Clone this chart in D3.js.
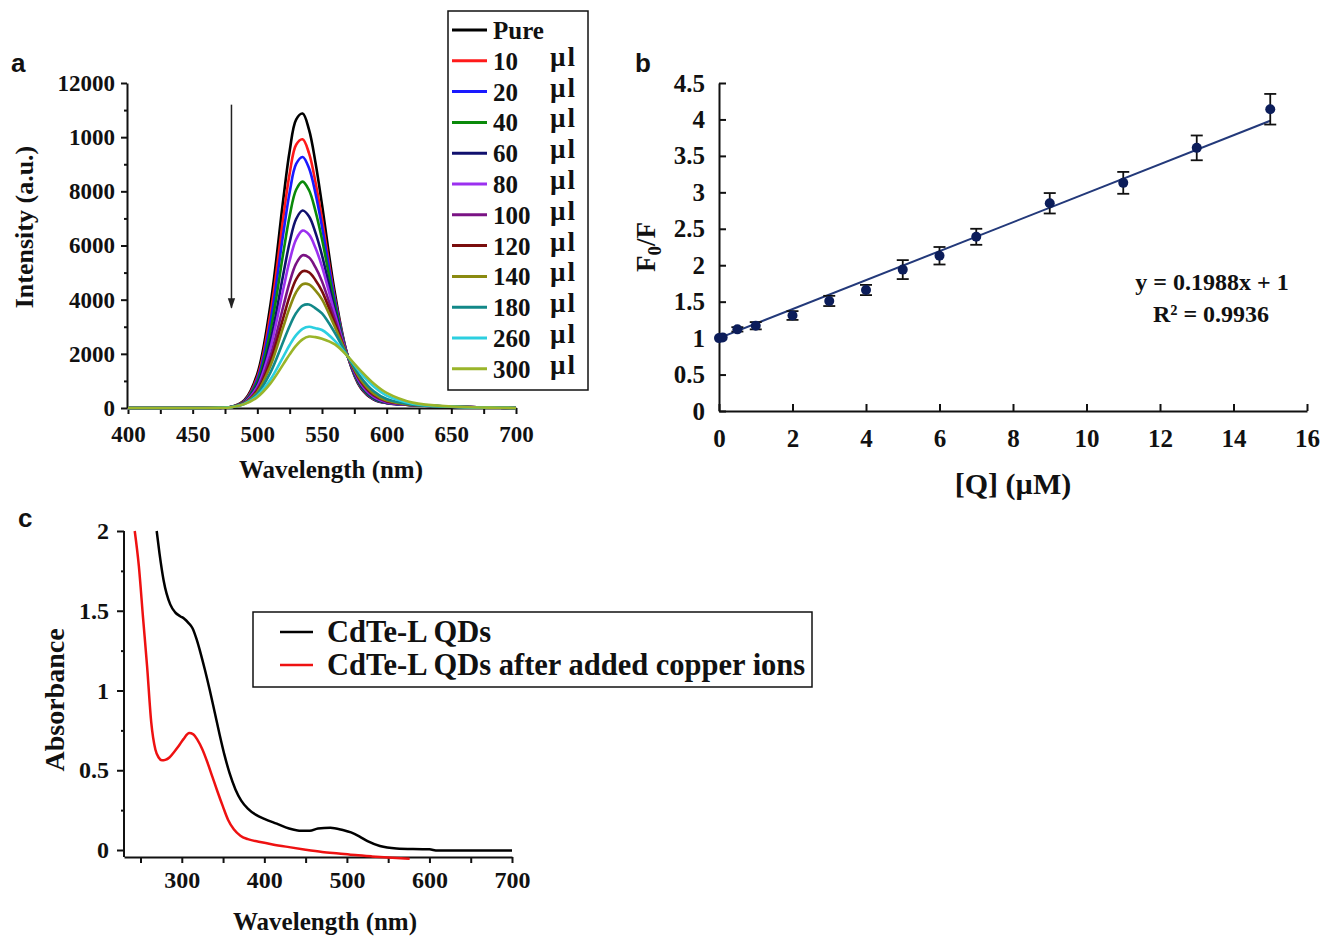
<!DOCTYPE html>
<html>
<head>
<meta charset="utf-8">
<script src="https://cdn.jsdelivr.net/npm/d3@7"></script>
<style>
  body { margin: 0; background: #fff; }
  svg text { font-family: "Liberation Serif", "Times New Roman", serif; font-weight: bold; fill: #111; }
  svg text.tag { font-family: "Liberation Sans", Arial, sans-serif; }
  .axis path, .axis line { stroke: #111; stroke-width: 2; }
</style>
</head>
<body>
<svg id="fig" width="1326" height="937"></svg>
<script>
// ---- panel a : emission spectra ----
const wavelengthA = [400, 450, 470, 480, 490, 500, 510, 520, 525, 530, 535, 540, 545, 550, 560, 570, 580, 590, 600, 620, 650, 680, 700];
const intPure = [0, 0, 5, 45, 287, 1260, 3770, 7680, 9490, 10650, 10870, 10270, 9050, 7510, 4235, 1900, 739, 311, 181, 110, 50, 15, 0];
const int10  = [0, 0, 4, 41, 262, 1150, 3440, 7010, 8660, 9720, 9920, 9400, 8330, 6990, 4060, 1900, 768, 328, 186, 110, 50, 15, 0];
const int20  = [0, 0, 4, 39, 245, 1060, 3150, 6420, 7970, 9010, 9270, 8850, 7910, 6695, 3975, 1900, 785, 337, 189, 110, 50, 15, 0];
const int40  = [0, 0, 4, 38, 228, 960, 2810, 5705, 7095, 8060, 8360, 8040, 7260, 6230, 3820, 1900, 813, 353, 195, 111, 50, 15, 0];
const int60  = [0, 0, 5, 37, 213, 860, 2450, 4920, 6120, 6980, 7290, 7070, 6465, 5640, 3615, 1900, 857, 381, 205, 111, 50, 15, 0];
const int80  = [0, 0, 5, 37, 203, 790, 2200, 4375, 5445, 6225, 6550, 6400, 5905, 5225, 3470, 1900, 895, 406, 215, 112, 50, 15, 0];
const int100 = [0, 0, 5, 36, 187, 700, 1900, 3740, 4650, 5330, 5640, 5555, 5190, 4675, 3260, 1900, 953, 451, 235, 113, 50, 15, 0];
const int120 = [0, 0, 5, 36, 176, 640, 1705, 3320, 4130, 4750, 5050, 5010, 4720, 4315, 3115, 1900, 999, 488, 254, 115, 50, 15, 0];
const int140 = [0, 0, 5, 35, 168, 590, 1540, 2985, 3705, 4275, 4570, 4560, 4335, 4010, 2990, 1900, 1043, 527, 275, 118, 50, 15, 0];
const int180 = [0, 0, 5, 34, 158, 520, 1295, 2445, 3030, 3505, 3780, 3820, 3680, 3490, 2770, 1900, 1137, 618, 330, 126, 50, 15, 0];
const int260 = [0, 0, 5, 33, 152, 450, 1040, 1890, 2325, 2690, 2925, 3000, 2945, 2880, 2480, 1900, 1288, 791, 459, 161, 51, 15, 0];
const int300 = [0, 0, 5, 30, 143, 400, 898, 1610, 1980, 2305, 2535, 2637, 2617, 2560, 2349, 1900, 1373, 904, 557, 198, 54, 15, 0];

const seriesLabelsA = ['Pure', '10', '20', '40', '60', '80', '100', '120', '140', '180', '260', '300'];
const seriesColorsA = ['#000000', '#ff1a1a', '#1a1aff', '#0a8a0a', '#10106e', '#9b30f0', '#7a1384', '#7a0d0d', '#8a8a10', '#128888', '#2ccfe0', '#9ab52a'];
const seriesValuesA = [intPure, int10, int20, int40, int60, int80, int100, int120, int140, int180, int260, int300];
const yTickValuesA = [0, 2000, 4000, 6000, 8000, 10000, 12000];
const yTickLabelsA = ['0', '2000', '4000', '6000', '8000', '1000', '12000'];
const arrowWavelengthA = 480;
const arrowRangeA = [11200, 3700];

// ---- panel b : Stern-Volmer plot ----
const concB  = [0, 0.1, 0.5, 1, 2, 3, 4, 5, 6, 7, 9, 11, 13, 15];
const ratioB = [1.0, 1.01, 1.12, 1.17, 1.31, 1.51, 1.66, 1.94, 2.13, 2.39, 2.85, 3.13, 3.61, 4.14];
const errB   = [0, 0, 0.03, 0.05, 0.06, 0.07, 0.07, 0.13, 0.12, 0.11, 0.14, 0.15, 0.17, 0.21];
const fitSlopeB = 0.1988, fitInterceptB = 1, fitRangeB = [0, 15];
const yTickValuesB = [0, 0.5, 1, 1.5, 2, 2.5, 3, 3.5, 4, 4.5];
const xTickValuesB = [0, 2, 4, 6, 8, 10, 12, 14, 16];

// ---- panel c : absorbance ----
const wlBlackC = [269.6, 273, 278, 286, 292, 298, 303, 308, 313, 318, 323, 328, 334, 340, 346, 352, 358, 365, 372, 380, 390, 400, 415, 430, 445, 455, 465, 480, 495, 505, 515, 525, 540, 560, 600, 610, 700];
const absBlackC = [2.0, 1.86, 1.69, 1.54, 1.49, 1.466, 1.45, 1.424, 1.39, 1.32, 1.23, 1.13, 1.0, 0.86, 0.72, 0.59, 0.48, 0.38, 0.31, 0.26, 0.22, 0.195, 0.165, 0.135, 0.12, 0.12, 0.135, 0.14, 0.125, 0.11, 0.085, 0.055, 0.025, 0.01, 0.004, -0.003, -0.003];
const wlRedC = [243, 248, 253, 258, 263, 268, 272, 276, 280, 285, 290, 296, 302, 309, 314, 319, 325, 331, 337, 343, 350, 356, 363, 371, 380, 395, 410, 430, 450, 470, 490, 510, 530, 550, 576];
const absRedC = [2.0, 1.78, 1.46, 1.15, 0.8, 0.63, 0.58, 0.562, 0.565, 0.58, 0.61, 0.65, 0.695, 0.733, 0.725, 0.69, 0.63, 0.55, 0.46, 0.37, 0.27, 0.19, 0.13, 0.09, 0.068, 0.05, 0.035, 0.018, 0.002, -0.012, -0.022, -0.032, -0.04, -0.047, -0.055];
const legendLabelsC = ['CdTe-L QDs', 'CdTe-L QDs after added copper ions'];
const legendColorsC = ['#000000', '#ee1111'];

const svg = d3.select('#fig');
svg.append('rect').attr('width', 1326).attr('height', 937).attr('fill', '#fff');

function styleAxis(g, size) {
  g.attr('class', 'axis').attr('font-family', null).attr('font-size', null)
    .style('font-size', size + 'px');
}

// ================= PANEL A =================
const xA = d3.scaleLinear().domain([400, 700]).range([128, 516]);
const yA = d3.scaleLinear().domain([0, 12000]).range([408, 83]);

svg.append('text').attr('class', 'tag').attr('x', 11).attr('y', 72).style('font-size', '26px').text('a');

svg.append('g').attr('transform', 'translate(0,408)')
  .call(d3.axisBottom(xA).tickValues(d3.range(400, 701, 25)).tickSize(6).tickSizeOuter(0).tickPadding(12)
    .tickFormat(d => d % 50 === 0 ? d : ''))
  .call(g => styleAxis(g, 23));

svg.append('g').attr('transform', 'translate(127,0)')
  .call(d3.axisLeft(yA).tickValues(yTickValuesA).tickSize(6).tickSizeOuter(0).tickPadding(6)
    .tickFormat((d, i) => yTickLabelsA[i]))
  .call(g => styleAxis(g, 23));
svg.append('g').attr('transform', 'translate(127,0)')
  .call(d3.axisLeft(yA).tickValues(d3.range(1000, 12000, 2000)).tickSize(3).tickFormat(''))
  .call(g => { styleAxis(g, 10); g.select('.domain').remove(); });

svg.append('text').attr('x', 331).attr('y', 478).attr('text-anchor', 'middle')
  .style('font-size', '25px').text('Wavelength (nm)');
svg.append('text').attr('transform', 'translate(33,227) rotate(-90)').attr('text-anchor', 'middle')
  .style('font-size', '26px').text('Intensity (a.u.)');

// arrow
svg.append('defs').append('marker').attr('id', 'arrowHead')
  .attr('viewBox', '0 0 10 10').attr('refX', 9).attr('refY', 5)
  .attr('markerWidth', 7).attr('markerHeight', 9).attr('orient', 'auto')
  .append('path').attr('d', 'M0,1.5 L10,5 L0,8.5 Z').attr('fill', '#222');
svg.append('line')
  .attr('x1', xA(arrowWavelengthA)).attr('x2', xA(arrowWavelengthA))
  .attr('y1', yA(arrowRangeA[0])).attr('y2', yA(arrowRangeA[1]))
  .attr('stroke', '#222').attr('stroke-width', 1.5).attr('marker-end', 'url(#arrowHead)');

const lineA = d3.line().x((d, i) => xA(wavelengthA[i])).y(d => yA(d)).curve(d3.curveCatmullRom);
svg.append('g').selectAll('path').data(seriesValuesA).join('path')
  .attr('d', lineA).attr('fill', 'none')
  .attr('stroke', (d, i) => seriesColorsA[i]).attr('stroke-width', 2.6);

// legend a
const legA = svg.append('g');
legA.append('rect').attr('x', 448).attr('y', 11).attr('width', 140).attr('height', 379)
  .attr('fill', '#fff').attr('stroke', '#111').attr('stroke-width', 1.5);
seriesLabelsA.forEach((lab, i) => {
  const cy = 30 + i * 30.8;
  legA.append('line').attr('x1', 452).attr('x2', 487).attr('y1', cy).attr('y2', cy)
    .attr('stroke', seriesColorsA[i]).attr('stroke-width', 3);
  legA.append('text').attr('x', 493).attr('y', cy + 9).style('font-size', '25px').text(lab);
  if (i > 0) legA.append('text').attr('x', 550).attr('y', cy + 5)
    .style('font-size', '27px').style('letter-spacing', '2px').text('µl');
});

// ================= PANEL B =================
const xB = d3.scaleLinear().domain([0, 16]).range([719, 1307]);
const yB = d3.scaleLinear().domain([0, 4.5]).range([411, 83]);

svg.append('text').attr('class', 'tag').attr('x', 635).attr('y', 72).style('font-size', '26px').text('b');

svg.append('g').attr('transform', 'translate(0,411)')
  .call(d3.axisBottom(xB).tickValues(xTickValuesB).tickSize(-7).tickSizeOuter(0).tickPadding(18)
    .tickFormat(d => d))
  .call(g => styleAxis(g, 25));
svg.append('g').attr('transform', 'translate(719,0)')
  .call(d3.axisLeft(yB).tickValues(yTickValuesB).tickSize(-7).tickSizeOuter(0).tickPadding(14)
    .tickFormat(d => String(d)))
  .call(g => styleAxis(g, 25));

svg.append('text').attr('x', 1013).attr('y', 494).attr('text-anchor', 'middle')
  .style('font-size', '30px').text('[Q] (µM)');
const fLab = svg.append('text').attr('transform', 'translate(655,247) rotate(-90)')
  .attr('text-anchor', 'middle').style('font-size', '27px');
fLab.append('tspan').text('F');
fLab.append('tspan').attr('dy', 6).style('font-size', '19px').text('0');
fLab.append('tspan').attr('dy', -6).text('/F');

svg.append('line')
  .attr('x1', xB(fitRangeB[0])).attr('y1', yB(fitInterceptB + fitSlopeB * fitRangeB[0]))
  .attr('x2', xB(fitRangeB[1])).attr('y2', yB(fitInterceptB + fitSlopeB * fitRangeB[1]))
  .attr('stroke', '#23397a').attr('stroke-width', 2);

const errG = svg.append('g').attr('stroke', '#111').attr('stroke-width', 1.8);
concB.forEach((c, i) => {
  if (!errB[i]) return;
  const x = xB(c), y1 = yB(ratioB[i] + errB[i]), y2 = yB(ratioB[i] - errB[i]);
  errG.append('line').attr('x1', x).attr('x2', x).attr('y1', y1).attr('y2', y2);
  errG.append('line').attr('x1', x - 6).attr('x2', x + 6).attr('y1', y1).attr('y2', y1);
  errG.append('line').attr('x1', x - 6).attr('x2', x + 6).attr('y1', y2).attr('y2', y2);
});
svg.append('g').selectAll('circle').data(concB).join('circle')
  .attr('cx', d => xB(d)).attr('cy', (d, i) => yB(ratioB[i])).attr('r', 5)
  .attr('fill', '#0c1d5a');

svg.append('text').attr('x', 1212).attr('y', 290).attr('text-anchor', 'middle')
  .style('font-size', '24px').text('y = 0.1988x + 1');
svg.append('text').attr('x', 1211).attr('y', 322).attr('text-anchor', 'middle')
  .style('font-size', '24px').text('R² = 0.9936');

// ================= PANEL C =================
const xC = d3.scaleLinear().domain([230, 700]).range([124, 512]);
const yC = d3.scaleLinear().domain([0, 2]).range([850, 531]);

svg.append('text').attr('class', 'tag').attr('x', 18).attr('y', 527).style('font-size', '26px').text('c');

svg.append('g').attr('transform', 'translate(0,857)')
  .call(d3.axisBottom(xC).tickValues(d3.range(250, 701, 50)).tickSize(6).tickSizeOuter(0).tickPadding(8)
    .tickFormat(d => d % 100 === 0 ? d : ''))
  .call(g => styleAxis(g, 24));
svg.append('g').attr('transform', 'translate(124,0)')
  .call(d3.axisLeft(yC).tickValues([0, 0.5, 1, 1.5, 2]).tickSize(7).tickSizeOuter(0).tickPadding(8)
    .tickFormat(d => String(d)))
  .call(g => { styleAxis(g, 24); g.select('.domain').remove(); });
svg.append('g').attr('transform', 'translate(124,0)')
  .call(d3.axisLeft(yC).tickValues([0.25, 0.75, 1.25, 1.75]).tickSize(3).tickFormat(''))
  .call(g => { styleAxis(g, 10); g.select('.domain').remove(); });
svg.append('line').attr('x1', 124).attr('x2', 124).attr('y1', yC(2)).attr('y2', 857)
  .attr('stroke', '#111').attr('stroke-width', 2);

svg.append('text').attr('x', 325).attr('y', 930).attr('text-anchor', 'middle')
  .style('font-size', '25px').text('Wavelength (nm)');
svg.append('text').attr('transform', 'translate(64,700) rotate(-90)').attr('text-anchor', 'middle')
  .style('font-size', '28px').text('Absorbance');

const lineC = d3.line().curve(d3.curveMonotoneX);
svg.append('path')
  .attr('d', lineC(wlBlackC.map((w, i) => [xC(w), yC(absBlackC[i])])))
  .attr('fill', 'none').attr('stroke', legendColorsC[0]).attr('stroke-width', 2.5);
svg.append('path')
  .attr('d', lineC(wlRedC.map((w, i) => [xC(w), yC(absRedC[i])])))
  .attr('fill', 'none').attr('stroke', legendColorsC[1]).attr('stroke-width', 2.5);

// legend c
const legC = svg.append('g');
legC.append('rect').attr('x', 253).attr('y', 612).attr('width', 559).attr('height', 75)
  .attr('fill', '#fff').attr('stroke', '#111').attr('stroke-width', 1.5);
legendLabelsC.forEach((lab, i) => {
  const cy = 632 + i * 33;
  legC.append('line').attr('x1', 280).attr('x2', 313).attr('y1', cy).attr('y2', cy)
    .attr('stroke', legendColorsC[i]).attr('stroke-width', 2.5);
  legC.append('text').attr('x', 327).attr('y', cy + 10).style('font-size', '30.5px').text(lab);
});
</script>
</body>
</html>
